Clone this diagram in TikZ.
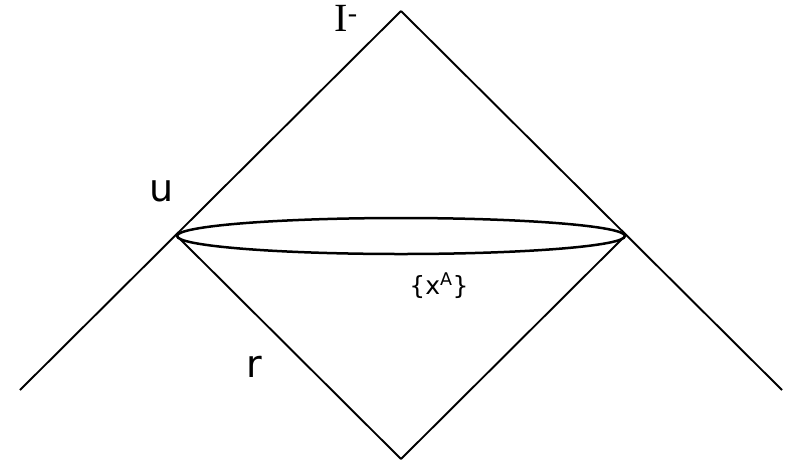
\documentclass[tikz,border=0pt]{standalone}
\usepackage{fontspec}
\setmainfont{DejaVu Sans}
\newfontfamily\scriserif{Liberation Serif}
\begin{document}
\begin{tikzpicture}[x=1pt,y=-1pt,line width=1.9pt,big label/.style={font=\fontsize{38}{40}\selectfont,inner sep=0pt},small label/.style={font=\fontsize{25}{27}\selectfont,inner sep=0pt}]
  \useasboundingbox (0,0) rectangle (803,467);
  \coordinate (top) at (401,11);
  \coordinate (left) at (20,390);
  \coordinate (right) at (782,390);
  \coordinate (lv) at (177,236);
  \coordinate (rv) at (625,236);
  \coordinate (bottom) at (401,459);
  \coordinate (mid) at (401,236);

  \node[big label] (scri) at (346,18) {\scriserif\fontsize{40}{42}\selectfont I\textsuperscript{-}};
  \node[big label] (u) at (162,191) {u};
  \node[big label] (r) at (254,367) {r};
  \node[small label] (xa) at (439,286) {\{x\textsuperscript{A}\}};

\path[draw]
  (top) edge (left)
  (top) edge (right)
  (lv) edge (bottom)
  (bottom) edge (rv)
;
  \draw[line width=2.5pt] (mid) ellipse [x radius=224pt, y radius=18pt];
\end{tikzpicture}
\end{document}
